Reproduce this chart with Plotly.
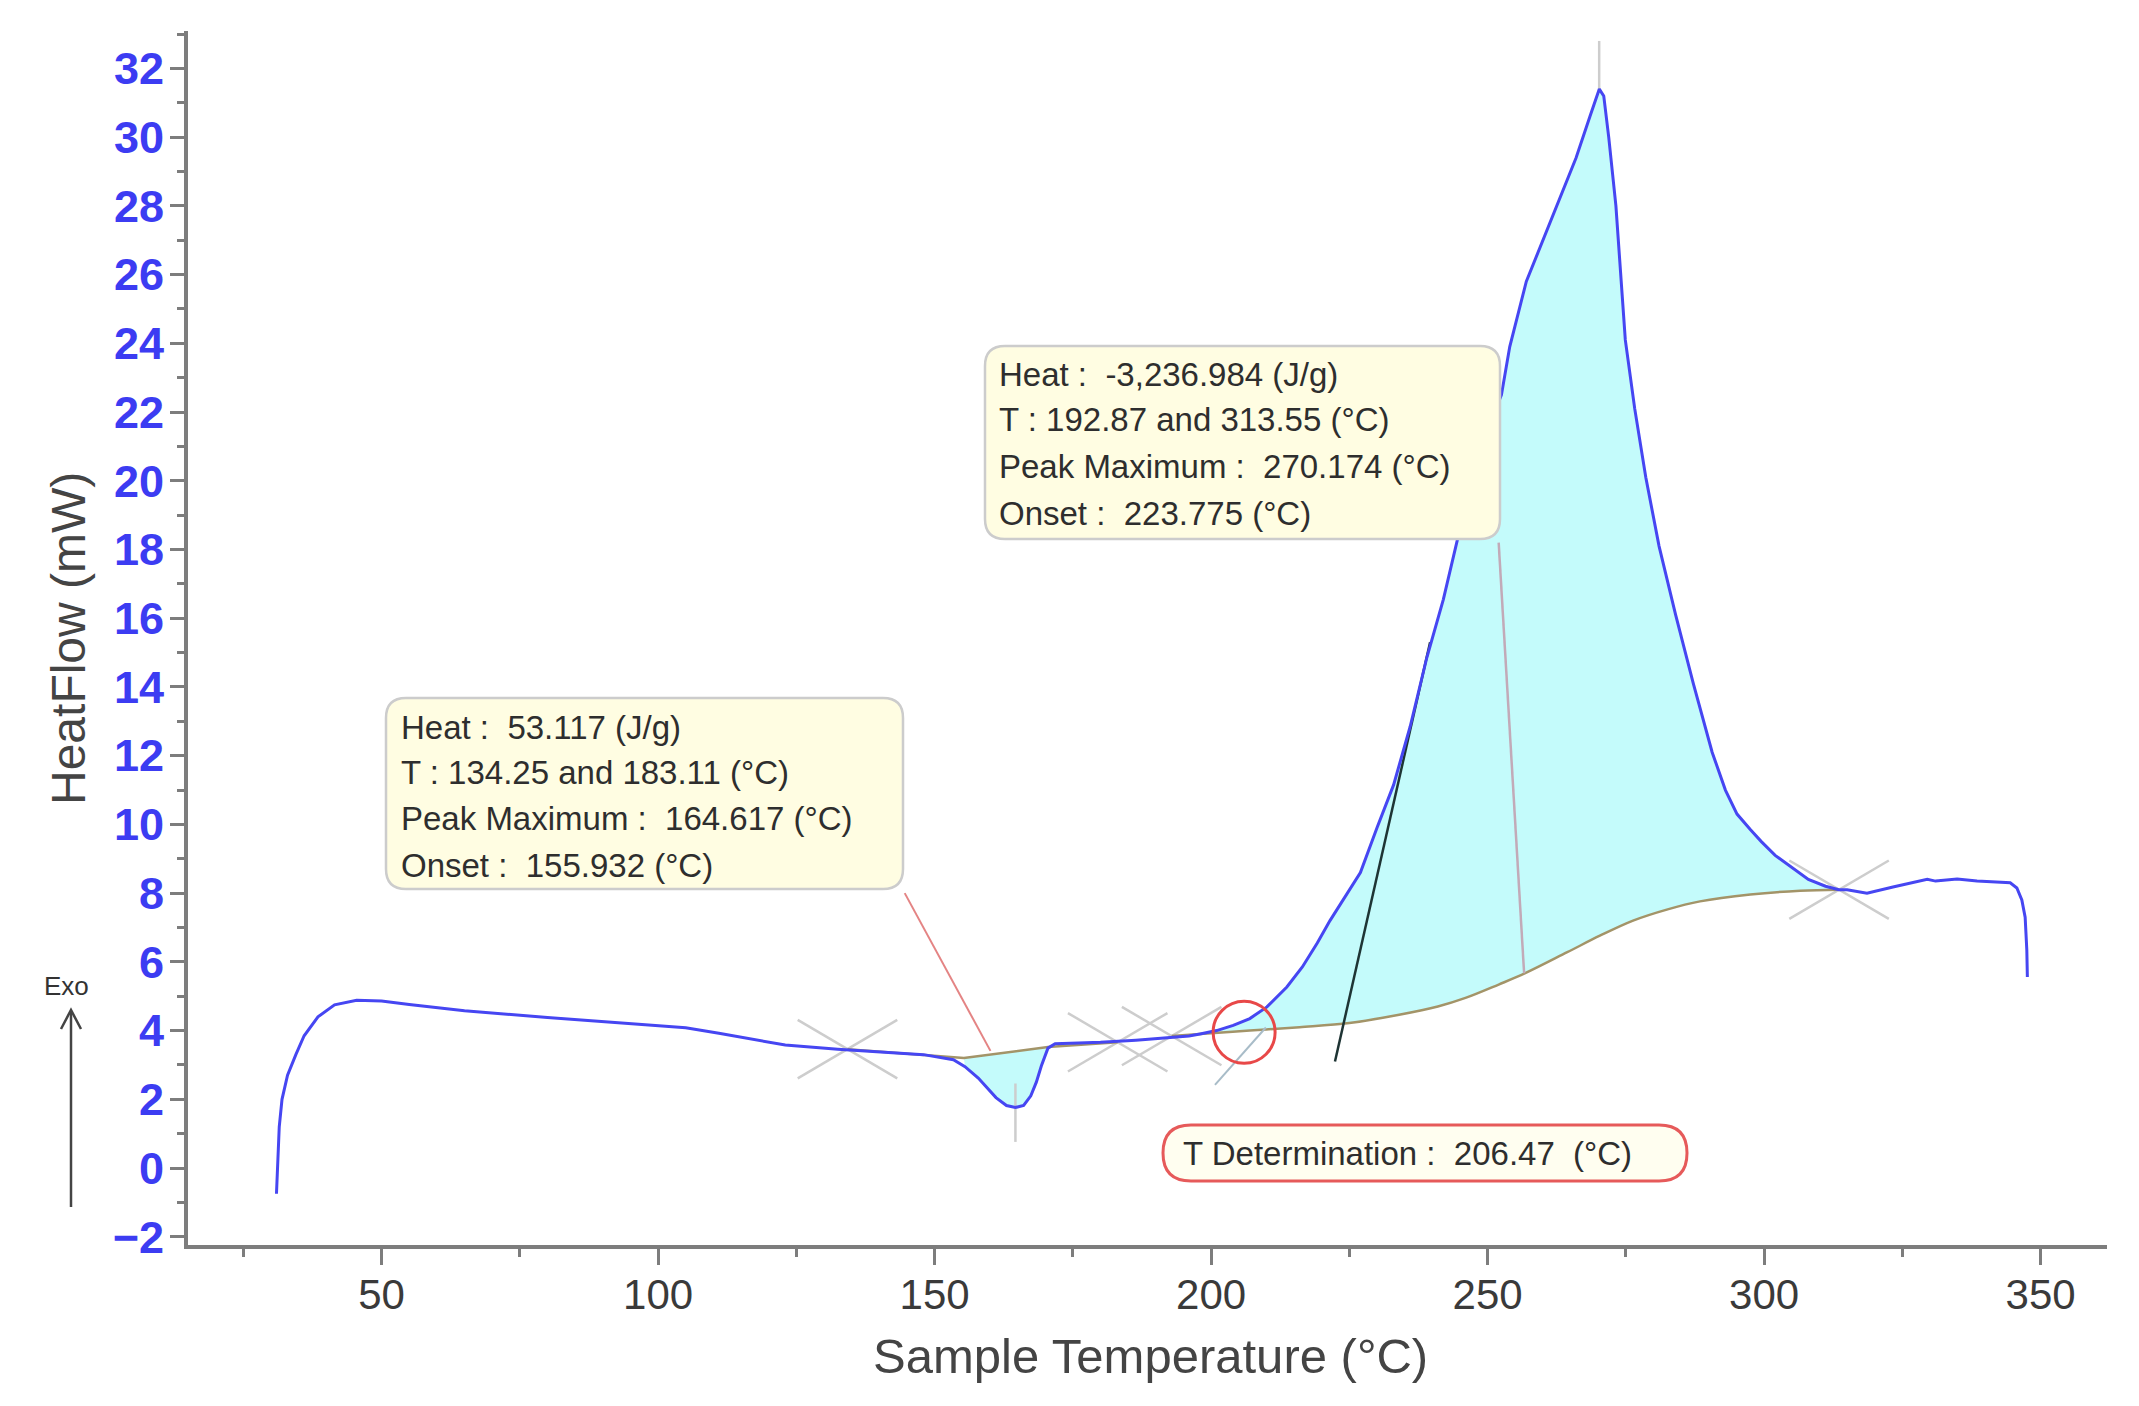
import plotly.graph_objects as go

# ---------------- data ----------------
temp = [31.0, 31.2, 31.5, 32.0, 33.0, 34.5, 36.0, 38.5, 41.5, 45.5, 50.0, 55.0, 65.0, 80.0, 95.0,
        105.0, 111.0, 117.0, 123.0, 132.5, 142.0, 148.0, 153.4, 155.5, 157.9, 159.5, 161.1, 163.0, 164.6,
        166.1, 167.4, 168.4, 169.3, 170.5, 171.8, 176.0, 180.0, 186.4, 192.0, 196.0, 198.0, 201.0,
        204.0, 207.0, 210.1, 213.7, 216.5, 219.2, 221.5, 223.9, 227.0, 230.0, 233.0, 236.0, 239.0,
        242.0, 245.0, 248.0, 251.0, 252.5, 254.0, 257.0, 260.0, 263.0, 266.0, 268.5, 270.2, 271.0,
        271.9, 273.2, 274.1, 274.9, 276.6, 278.6, 281.0, 284.0, 287.2, 290.6, 293.0, 295.1, 297.5,
        299.5, 302.0, 304.9, 308.0, 311.1, 313.5, 315.0, 318.6, 323.3, 326.5, 329.5, 331.0, 334.9,
        338.5, 341.5, 344.5, 345.7, 346.6, 347.2, 347.5, 347.6]
heatflow = [-0.75, 0.2, 1.2, 2.0, 2.7, 3.3, 3.85, 4.4, 4.75, 4.88, 4.86, 4.76, 4.58, 4.38, 4.2,
            4.08, 3.92, 3.74, 3.58, 3.46, 3.37, 3.3, 3.15, 2.95, 2.62, 2.35, 2.05, 1.82, 1.76,
            1.82, 2.1, 2.5, 2.97, 3.49, 3.62, 3.64, 3.66, 3.72, 3.78, 3.84, 3.9, 4.0,
            4.15, 4.35, 4.69, 5.27, 5.85, 6.55, 7.2, 7.8, 8.6, 9.9, 11.15, 12.85, 14.85,
            16.55, 18.6, 20.4, 21.9, 22.5, 23.9, 25.8, 27.0, 28.2, 29.4, 30.6, 31.4, 31.2,
            30.0, 28.0, 26.0, 24.1, 22.1, 20.1, 18.1, 16.1, 14.1, 12.1, 11.0, 10.3, 9.85,
            9.5, 9.1, 8.75, 8.4, 8.2, 8.1, 8.1, 8.0, 8.18, 8.3, 8.4, 8.35, 8.41,
            8.35, 8.32, 8.3, 8.15, 7.8, 7.3, 6.35, 5.56]

# integration baselines
base_big_T = [192.87, 198, 207, 216, 225, 234, 241, 246, 252, 256.8, 264.4, 270.3, 276.3, 282.4, 288.4, 297.5, 306.5, 313.55]
base_big_H = [3.84, 3.9, 4.0, 4.1, 4.22, 4.46, 4.7, 4.95, 5.34, 5.67, 6.28, 6.76, 7.2, 7.52, 7.76, 7.96, 8.07, 8.1]
base_small_T = [134.25, 155.3, 170.5, 183.11]
base_small_H = [3.46, 3.2, 3.52, 3.66]

# integration limits (X markers)
limit_T = [134.25, 183.11, 192.87, 313.55]
limit_H = [3.46, 3.66, 3.84, 8.1]

# peak maxima
peak_T = [164.617, 270.174]
peak_H = [1.76, 31.4]

# onset tangent (big peak) and T-determination tangent
onset_T = [222.4, 239.6]
onset_H = [3.1, 15.3]
tdet_T = [200.7, 209.9]
tdet_H = [2.42, 4.09]
t_det = 206.47

box1_lines = ["Heat :\u00a0\u00a053.117 (J/g)",
              "T : 134.25 and 183.11 (°C)",
              "Peak Maximum :\u00a0\u00a0164.617 (°C)",
              "Onset :\u00a0\u00a0155.932 (°C)"]
box2_lines = ["Heat :\u00a0\u00a0-3,236.984 (J/g)",
              "T : 192.87 and 313.55 (°C)",
              "Peak Maximum :\u00a0\u00a0270.174 (°C)",
              "Onset :\u00a0\u00a0223.775 (°C)"]
box3_text = "T Determination :\u00a0\u00a0206.47\u00a0\u00a0(°C)"

# ---------------- layout geometry ----------------
W, H = 2139, 1406
L, R, TOP, BOT = 188, 2107, 31, 1245
XR = [15, 362]
YR = [-2.24, 33.09]


def px(x):
    return (x - L) / (R - L)


def py(y):
    return (BOT - y) / (BOT - TOP)


def rrect(x0, y0, x1, y1, r):
    pts = [("M", x0 + r, y0), ("L", x1 - r, y0), ("Q", x1, y0, x1, y0 + r), ("L", x1, y1 - r),
           ("Q", x1, y1, x1 - r, y1), ("L", x0 + r, y1), ("Q", x0, y1, x0, y1 - r),
           ("L", x0, y0 + r), ("Q", x0, y0, x0 + r, y0)]
    s = ""
    for p in pts:
        cmd = p[0]
        coords = p[1:]
        parts = []
        for i in range(0, len(coords), 2):
            parts.append(f"{px(coords[i]):.5f},{py(coords[i+1]):.5f}")
        s += cmd + " " + " ".join(parts) + " "
    return s + "Z"


BLUE = "#4646f2"
FILL = "#c4fbfb"
BASE = "#a39468"
GRAY = "#cdcdcd"
TXT = "#2e2e2e"

fig = go.Figure()

# fills
big_poly_T = [t for t in temp if base_big_T[0] <= t <= base_big_T[-1]]
big_poly_H = [h for t, h in zip(temp, heatflow) if base_big_T[0] <= t <= base_big_T[-1]]
fig.add_trace(go.Scatter(x=[base_big_T[0]] + big_poly_T + base_big_T[::-1],
                         y=[base_big_H[0]] + big_poly_H + base_big_H[::-1],
                         fill="toself", fillcolor=FILL, line=dict(width=0), mode="lines",
                         hoverinfo="skip", showlegend=False))
sm_T = [t for t in temp if base_small_T[1] <= t <= base_small_T[2]]
sm_H = [h for t, h in zip(temp, heatflow) if base_small_T[1] <= t <= base_small_T[2]]
fig.add_trace(go.Scatter(x=sm_T + base_small_T[2:0:-1], y=sm_H + base_small_H[2:0:-1],
                         fill="toself", fillcolor=FILL, line=dict(width=0), mode="lines",
                         hoverinfo="skip", showlegend=False))

# X markers at integration limits
dx, dy = 9.0, 0.85
for t, h in zip(limit_T, limit_H):
    fig.add_trace(go.Scatter(x=[t - dx, t + dx, None, t - dx, t + dx],
                             y=[h - dy, h + dy, None, h + dy, h - dy],
                             mode="lines", line=dict(color=GRAY, width=2.5),
                             hoverinfo="skip", showlegend=False))

# peak maximum markers
fig.add_trace(go.Scatter(x=[peak_T[0], peak_T[0], None, peak_T[1], peak_T[1]],
                         y=[peak_H[0] - 1.0, peak_H[0] + 0.7, None, peak_H[1], peak_H[1] + 1.4],
                         mode="lines", line=dict(color=GRAY, width=2.5),
                         hoverinfo="skip", showlegend=False))

# baselines
fig.add_trace(go.Scatter(x=base_big_T, y=base_big_H, mode="lines", line=dict(color=BASE, width=2.5),
                         line_shape="spline", hoverinfo="skip", showlegend=False))
fig.add_trace(go.Scatter(x=base_small_T, y=base_small_H, mode="lines", line=dict(color=BASE, width=2.5),
                         hoverinfo="skip", showlegend=False))

# tangents
fig.add_trace(go.Scatter(x=tdet_T, y=tdet_H, mode="lines", line=dict(color="#a8bcc8", width=2),
                         hoverinfo="skip", showlegend=False))
fig.add_trace(go.Scatter(x=onset_T, y=onset_H, mode="lines", line=dict(color="#1e3434", width=2.5),
                         hoverinfo="skip", showlegend=False))

# main curve
fig.add_trace(go.Scatter(x=temp, y=heatflow, mode="lines", line=dict(color=BLUE, width=3),
                         hoverinfo="skip", showlegend=False))

shapes = []
# leader lines
shapes.append(dict(type="line", xref="x", yref="y", x0=144.6, y0=8.0, x1=160.1, y1=3.41,
                   line=dict(color="#e48484", width=2), layer="above"))
shapes.append(dict(type="line", xref="x", yref="y", x0=252.0, y0=18.2, x1=256.6, y1=5.67,
                   line=dict(color="#c2aab8", width=2.5), layer="above"))
# annotation boxes
shapes.append(dict(type="path", xref="paper", yref="paper", path=rrect(386, 698, 903, 889, 20),
                   fillcolor="#fffde2", line=dict(color="#cccccc", width=2.5), layer="above"))
shapes.append(dict(type="path", xref="paper", yref="paper", path=rrect(985, 346, 1500, 539, 20),
                   fillcolor="#fffde2", line=dict(color="#cccccc", width=2.5), layer="above"))
shapes.append(dict(type="path", xref="paper", yref="paper", path=rrect(1163, 1125, 1687, 1181, 28),
                   fillcolor="#fffef0", line=dict(color="#e65a5a", width=3), layer="above"))
# T determination circle
shapes.append(dict(type="circle", xref="x", yref="y", xsizemode="pixel", ysizemode="pixel",
                   xanchor=t_det - 0.5, yanchor=3.95, x0=-31, x1=31, y0=-31, y1=31,
                   line=dict(color="#e84848", width=3), layer="above"))
# Exo arrow
shapes.append(dict(type="line", xref="paper", yref="paper", x0=px(71), y0=py(1207), x1=px(71), y1=py(1011),
                   line=dict(color="#444444", width=2.5)))
shapes.append(dict(type="path", xref="paper", yref="paper",
                   path=f"M {px(61):.5f},{py(1029):.5f} L {px(71):.5f},{py(1010):.5f} L {px(81):.5f},{py(1029):.5f}",
                   line=dict(color="#444444", width=2.5)))

annotations = []
TFONT = dict(family="Liberation Sans, Arial, sans-serif", size=33, color=TXT)
for text, yy in zip(box1_lines, [727, 772, 818, 865]):
    annotations.append(dict(text=text, xref="paper", yref="paper", x=px(399), y=py(yy),
                            xanchor="left", yanchor="middle", showarrow=False, font=TFONT))
for text, yy in zip(box2_lines, [374, 420, 466, 513]):
    annotations.append(dict(text=text, xref="paper", yref="paper", x=px(997), y=py(yy),
                            xanchor="left", yanchor="middle", showarrow=False, font=TFONT))
annotations.append(dict(text=box3_text, xref="paper", yref="paper", x=px(1181), y=py(1153),
                        xanchor="left", yanchor="middle", showarrow=False, font=TFONT))
annotations.append(dict(text="Exo", xref="paper", yref="paper", x=px(66), y=py(986),
                        xanchor="center", yanchor="middle", showarrow=False,
                        font=dict(family="Liberation Sans, Arial, sans-serif", size=26, color="#333333")))
annotations.append(dict(text="HeatFlow (mW)", xref="paper", yref="paper", x=px(68), y=py(638),
                        xanchor="center", yanchor="middle", showarrow=False, textangle=-90,
                        font=dict(family="Liberation Sans, Arial, sans-serif", size=48, color="#444444")))
annotations.append(dict(text="Sample Temperature (°C)", xref="paper", yref="paper", x=px(1150), y=py(1356),
                        xanchor="center", yanchor="middle", showarrow=False,
                        font=dict(family="Liberation Sans Narrow, Arial Narrow, Liberation Sans, Arial",
                                  size=49, color="#444444")))

AX = "#7d7d7d"
fig.update_layout(
    width=W, height=H,
    margin=dict(l=L, r=W - R, t=TOP, b=H - BOT, autoexpand=False),
    paper_bgcolor="white", plot_bgcolor="white",
    shapes=shapes, annotations=annotations,
    xaxis=dict(range=XR, showgrid=False, zeroline=False, showline=True, linecolor=AX, linewidth=4,
               ticks="outside", ticklen=16, tickwidth=2.5, tickcolor=AX, tick0=0, dtick=50,
               tickfont=dict(family="Liberation Sans Narrow, Arial Narrow, Liberation Sans, Arial",
                             size=42, color="#3a3a3a"),
               ticklabelstandoff=-6,
               minor=dict(dtick=25, tick0=0, ticks="outside", ticklen=8, tickwidth=2.5, tickcolor=AX,
                          showgrid=False)),
    yaxis=dict(range=YR, showgrid=False, zeroline=False, showline=True, linecolor=AX, linewidth=4,
               ticks="outside", ticklen=14, tickwidth=2.5, tickcolor=AX, tick0=0, dtick=2,
               tickfont=dict(family="Liberation Sans, Arial, sans-serif", size=45, color="#3c3cf2",
                             weight="bold"),
               ticklabelstandoff=-3,
               minor=dict(dtick=1, tick0=0, ticks="outside", ticklen=7, tickwidth=2.5, tickcolor=AX,
                          showgrid=False)),
)

fig.write_html("out.html")
